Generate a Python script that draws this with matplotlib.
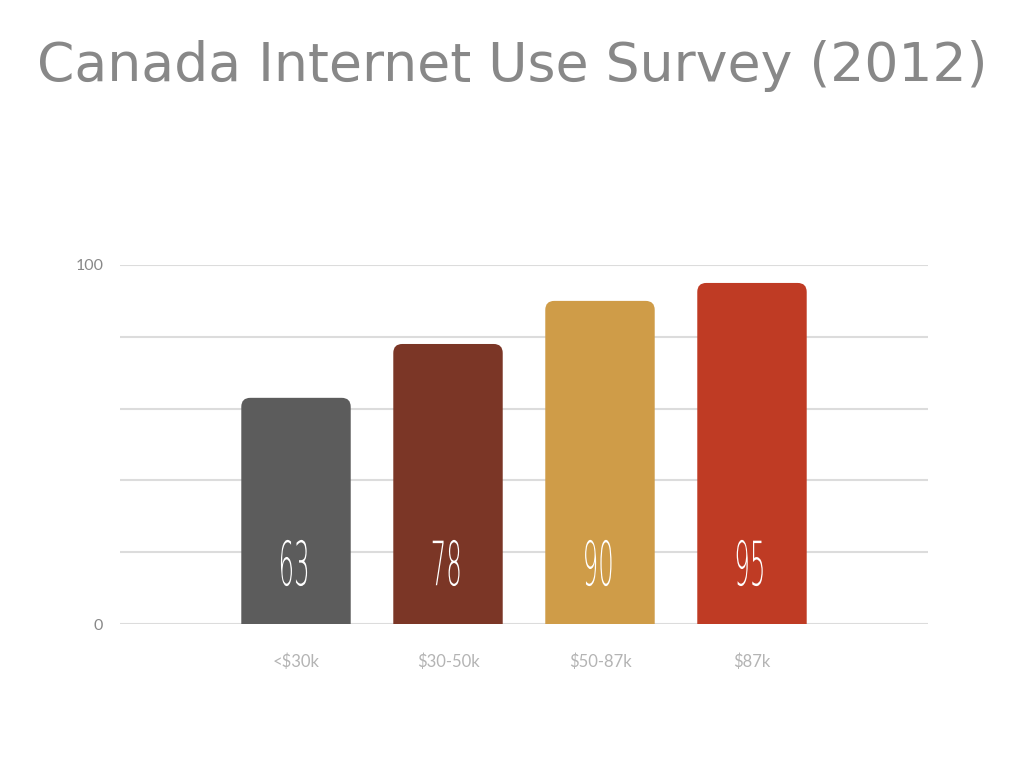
import matplotlib
matplotlib.use("Agg")
import matplotlib.pyplot as plt
from matplotlib.patches import FancyBboxPatch
from matplotlib.patheffects import AbstractPathEffect
from matplotlib.transforms import Affine2D

categories = ["<$30k", "$30-50k", "$50-87k", "$87k"]
values = [63, 78, 90, 95]
colors = ["#5c5c5c", "#7b3626", "#cf9c48", "#bf3b24"]
title = "Canada Internet Use Survey (2012)"


class Condense(AbstractPathEffect):
    """Squeeze glyphs horizontally around their own centre."""
    def __init__(self, sx=0.5):
        super().__init__()
        self.sx = sx

    def draw_path(self, renderer, gc, tpath, affine, rgbFace=None):
        v = tpath.vertices
        if len(v):
            cx = (v[:, 0].min() + v[:, 0].max()) / 2
        else:
            cx = 0
        t = Affine2D().translate(-cx, 0).scale(self.sx, 1).translate(cx, 0) + affine
        renderer.draw_path(gc, tpath, t, rgbFace)


W, H = 1024, 768
fig = plt.figure(figsize=(W / 100, H / 100), dpi=100)
ax_l, ax_r, ax_b, ax_t = 120, 928, 624, 265
ax = fig.add_axes([ax_l / W, 1 - ax_b / H, (ax_r - ax_l) / W, (ax_b - ax_t) / H])

x = list(range(len(categories)))
bw = 0.72
bars = ax.bar(x, values, width=bw, color=colors, zorder=3)
ax.set_xlim(-1.158, len(categories) - 1 + 1.158)
ax.set_ylim(0, 100)

# rounded top corners
px_per_x = (ax_r - ax_l) / (len(categories) - 1 + 2 * 1.158)
px_per_y = (ax_b - ax_t) / 100
aspect = px_per_x / px_per_y
r = 9 / px_per_x
for b in bars:
    b.set_visible(False)
    p = FancyBboxPatch((b.get_x(), -10), b.get_width(), b.get_height() + 10,
                       boxstyle=f"round,pad=0,rounding_size={r}",
                       mutation_aspect=aspect, facecolor=b.get_facecolor(),
                       edgecolor="none", zorder=3, clip_on=True)
    ax.add_patch(p)

for xi, v in zip(x, values):
    ax.text(xi, 10.8, str(v), ha="center", va="baseline", color="white",
            fontsize=44, family="DejaVu Sans", fontweight="ultralight", zorder=4,
            path_effects=[Condense(0.4)])

ax.set_yticks([0, 20, 40, 60, 80, 100])
ax.set_yticklabels(["0", "", "", "", "", "100"], fontsize=11.5, color="#888888",
                   family="Lato", fontweight="normal")
ax.set_xticks(x)
ax.set_xticklabels(categories, fontsize=12, color="#b4b4b4", family="Lato",
                   fontweight="normal")
ax.tick_params(axis="both", length=0)
ax.tick_params(axis="x", pad=21)
ax.tick_params(axis="y", pad=12)
ax.grid(axis="y", color="#dcdcdc", linewidth=1.5, zorder=0)
for s in ax.spines.values():
    s.set_visible(False)

fig.text(0.5, 1 - 66 / H, title, ha="center", va="center", fontsize=38.6,
         color="#888888", family="DejaVu Sans")

fig.savefig("out.png", dpi=100)
